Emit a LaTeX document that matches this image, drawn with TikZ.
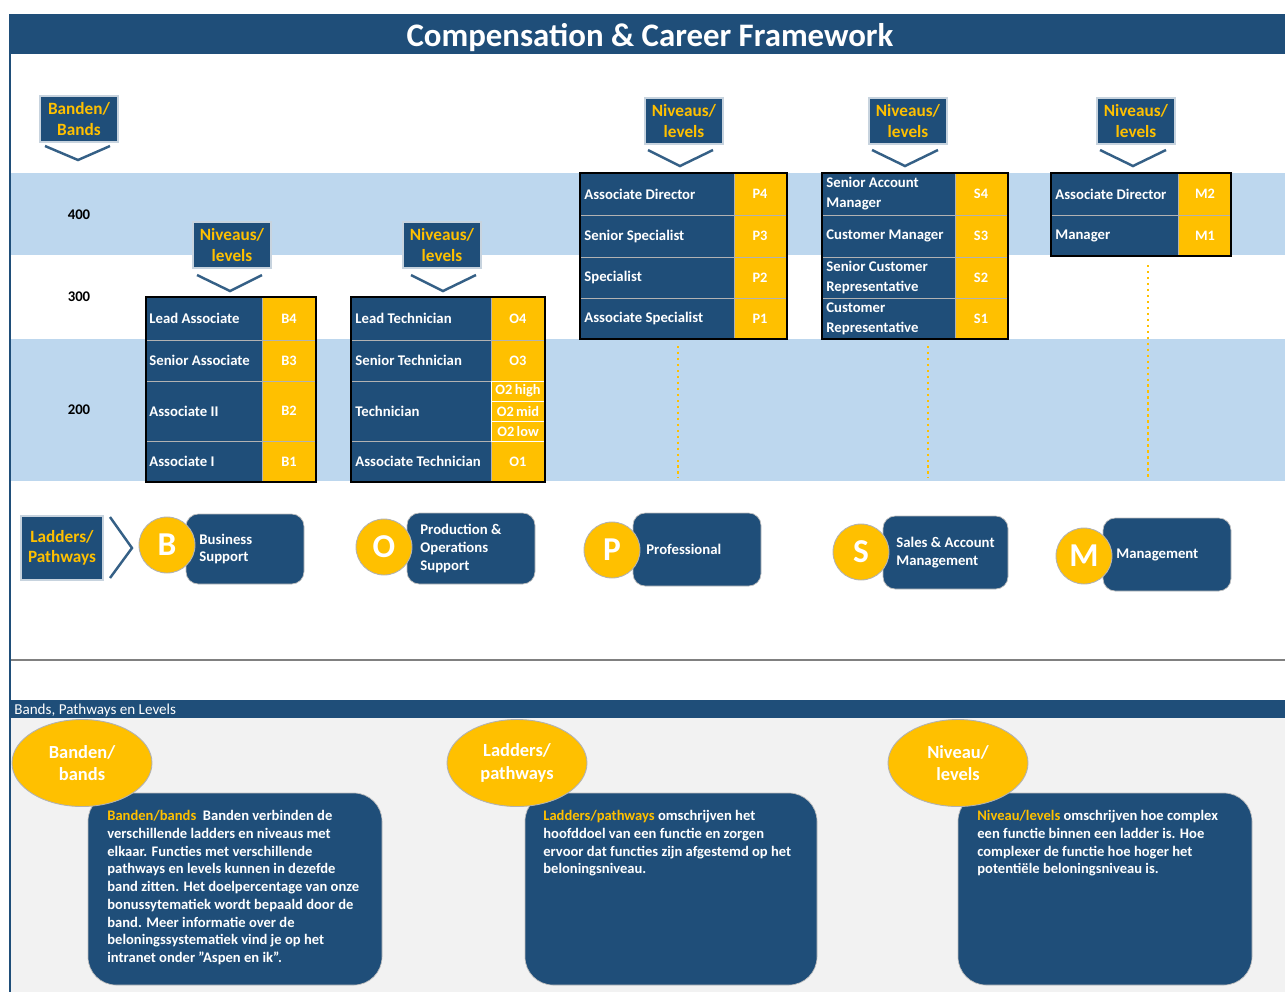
\documentclass[tikz,border=0pt]{standalone}
\usepackage{fontspec}
\setmainfont{Carlito}
\usetikzlibrary{shapes.geometric}

\definecolor{navy}{HTML}{1F4E79}
\definecolor{gold}{HTML}{FFC000}
\definecolor{bandblue}{HTML}{BDD7EE}
\definecolor{paper}{HTML}{F2F2F2}

\tikzset{
  cell/.style={fill=navy, draw=gray!60, line width=0.5pt},
  lvlcell/.style={fill=gold, draw=gray!60, line width=0.5pt},
  rowtext/.style={text=white, font=\bfseries\fontsize{8.4}{11.4}\selectfont, align=left, anchor=west, inner sep=0pt},
  lvltext/.style={text=white, font=\bfseries\fontsize{8.2}{9}\selectfont, inner sep=0pt},
  tag/.style={fill=navy, text=gold, font=\bfseries\fontsize{9.8}{11.5}\selectfont, align=center,
    minimum width=1.52cm, minimum height=0.88cm, inner sep=1pt,
    preaction={draw=navy!25, line width=2.6pt}},
  chev/.style={draw=navy!90, line width=1.4pt},
  dotline/.style={draw=gold, line width=1.4pt, dotted},
  bandno/.style={font=\bfseries\fontsize{8.4}{9}\selectfont},
  pathbox/.style={fill=navy, draw=gray!50, line width=0.4pt, rounded corners=7pt},
  pathdot/.style={circle, fill=gold, draw=gray!60, line width=0.5pt, minimum size=1.12cm, inner sep=0pt,
    text=white, font=\bfseries\fontsize{19}{19}\selectfont},
  pathtext/.style={text=white, font=\bfseries\fontsize{8.4}{10}\selectfont, align=left, anchor=west, inner sep=0pt},
  infobox/.style={fill=navy, draw=gray!50, line width=0.4pt, rounded corners=16pt},
  infoblob/.style={ellipse, fill=gold, draw=gray!60, line width=0.5pt, minimum width=2.8cm, minimum height=1.74cm,
    inner sep=0pt, text=white, align=center, font=\bfseries\fontsize{10.5}{13}\selectfont},
  infotext/.style={text=white, font=\bfseries\fontsize{8.3}{10.1}\selectfont, align=left, anchor=north west, inner sep=0pt}
}

\begin{document}
\begin{tikzpicture}[x=0.02cm, y=-0.02cm]
  \useasboundingbox (0,0) rectangle (1285,992);

  % === Background ===
  \fill[bandblue] (11,173) rectangle (1285,255);
  \fill[bandblue] (11,339) rectangle (1285,481);
  \fill[paper] (11,718) rectangle (1285,992);
  \draw[gray, line width=1.2pt] (10,660) -- (1285,660);
  \draw[navy, line width=1.2pt] (10,14) -- (10,992);

  % === Header ===
  \fill[navy] (10,14) rectangle (1285,54);
  \node[text=white, font=\bfseries\fontsize{18.7}{20}\selectfont] (title) at (650,38) {Compensation \& Career Framework};

  % === Bands ===
  \node[tag] (bandtag) at (79,119) {Banden/\\Bands};
  \draw[chev] (45,146) -- (78,160) -- (110,146);
  \node[bandno] (b400) at (79,215) {400};
  \node[bandno] (b300) at (79,297) {300};
  \node[bandno] (b200) at (79,410) {200};

  % === Level tags ===
  \node[tag] (tagB) at (232,245) {Niveaus/\\levels};
  \draw[chev] (197,275) -- (230,291) -- (262,275);
  \node[tag] (tagO) at (442,245) {Niveaus/\\levels};
  \draw[chev] (411,275) -- (443,291) -- (476,275);
  \node[tag] (tagP) at (684,121) {Niveaus/\\levels};
  \draw[chev] (648,150) -- (680,166) -- (713,150);
  \node[tag] (tagS) at (908,121) {Niveaus/\\levels};
  \draw[chev] (872,150) -- (905,166) -- (938,150);
  \node[tag] (tagM) at (1136,121) {Niveaus/\\levels};
  \draw[chev] (1100,150) -- (1133,166) -- (1166,150);

  % === Business Support ===
  \foreach \ya/\yb/\job/\lvl in {297/340/Lead Associate/B4, 340/381/Senior Associate/B3,
                                 381/441/Associate II/B2, 441/482/Associate I/B1} {
    \draw[cell] (146,\ya) rectangle (262,\yb);
    \draw[lvlcell] (262,\ya) rectangle (316,\yb);
    \node[rowtext] (\lvl job) at (149,{(\ya+\yb)/2}) {\job};
    \node[lvltext] (\lvl) at (289,{(\ya+\yb)/2}) {\lvl};
  }
  \draw[line width=1.2pt] (146,297) rectangle (316,482);

  % === Production & Operations ===
  \foreach \ya/\yb/\job/\lvl in {297/340/Lead Technician/O4, 340/381/Senior Technician/O3,
                                 441/482/Associate Technician/O1} {
    \draw[cell] (351,\ya) rectangle (491,\yb);
    \draw[lvlcell] (491,\ya) rectangle (545,\yb);
    \node[rowtext] (\lvl job) at (355,{(\ya+\yb)/2}) {\job};
    \node[lvltext] (\lvl) at (518,{(\ya+\yb)/2}) {\lvl};
  }
  \draw[cell] (351,381) rectangle (491,441);
  \node[rowtext] (O2job) at (355,411) {Technician};
  \foreach \ya/\yb/\sub in {381/401/high, 401/421/mid, 421/441/low} {
    \draw[lvlcell, draw=white] (491,\ya) rectangle (545,\yb);
    \node[lvltext] (O2\sub) at (518,{(\ya+\yb)/2}) {O2\,\sub};
  }
  \draw[line width=1.2pt] (351,297) rectangle (545,482);

  % === Professional ===
  \foreach \ya/\yb/\job/\lvl in {173/215/Associate Director/P4, 215/257/Senior Specialist/P3,
                                 257/298/Specialist/P2, 298/339/Associate Specialist/P1} {
    \draw[cell] (580,\ya) rectangle (734,\yb);
    \draw[lvlcell] (734,\ya) rectangle (787,\yb);
    \node[rowtext] (\lvl job) at (584,{(\ya+\yb)/2}) {\job};
    \node[lvltext] (\lvl) at (760,{(\ya+\yb)/2}) {\lvl};
  }
  \draw[line width=1.2pt] (580,173) rectangle (787,339);

  % === Sales & Account ===
  \foreach \ya/\yb/\job/\lvl in {173/215/{Senior Account\\Manager}/S4, 215/257/Customer Manager/S3,
                                 257/298/{Senior Customer\\Representative}/S2, 298/339/{Customer\\Representative}/S1} {
    \draw[cell] (822,\ya) rectangle (955,\yb);
    \draw[lvlcell] (955,\ya) rectangle (1008,\yb);
    \node[rowtext] (\lvl job) at (826,{(\ya+\yb)/2}) {\job};
    \node[lvltext] (\lvl) at (981,{(\ya+\yb)/2}) {\lvl};
  }
  \draw[line width=1.2pt] (822,173) rectangle (1008,339);

  % === Management ===
  \foreach \ya/\yb/\job/\lvl in {173/215/Associate Director/M2, 215/256/Manager/M1} {
    \draw[cell] (1051,\ya) rectangle (1178,\yb);
    \draw[lvlcell] (1178,\ya) rectangle (1231,\yb);
    \node[rowtext] (\lvl job) at (1055,{(\ya+\yb)/2}) {\job};
    \node[lvltext] (\lvl) at (1205,{(\ya+\yb)/2}) {\lvl};
  }
  \draw[line width=1.2pt] (1051,173) rectangle (1231,256);

  % dotted guides down to band 100
  \coordinate (Ptop) at (678,346);  \coordinate (Pend) at (678,478);
  \coordinate (Stop) at (928,346);  \coordinate (Send) at (928,478);
  \coordinate (Mtop) at (1148,265); \coordinate (Mend) at (1148,478);
  \draw[dotline] (Ptop) -- (Pend);
  \draw[dotline] (Stop) -- (Send);
  \draw[dotline] (Mtop) -- (Mend);

  % === Ladders / Pathways ===
  \node[tag, minimum width=1.6cm, minimum height=1.24cm] (laddertag) at (62,548) {Ladders/\\Pathways};
  \draw[chev] (110,517) -- (132,548) -- (110,578);
  \foreach \c/\cx/\cy/\bx/\by/\ex/\ey/\txt in {
      B/167/545/186/514/304/584/{Business\\Support},
      O/384/547/407/513/535/584/{Production \&\\Operations\\Support},
      P/612/550/633/513/761/586/{Professional},
      S/861/552/883/516/1008/589/{Sales \& Account\\Management},
      M/1084/556/1103/518/1231/591/{Management}} {
    \draw[pathbox] (\bx,\by) rectangle (\ex,\ey);
    \node[pathdot] (\c) at (\cx,\cy) {\c};
    \node[pathtext] (\c txt) at (\bx+13,{(\by+\ey)/2}) {\txt};
  }

  % === Bands, Pathways en Levels ===
  \fill[navy] (10,700) rectangle (1285,718);
  \node[text=white, font=\fontsize{8.6}{9}\selectfont, anchor=west, inner sep=0pt] (bplhead) at (14,710) {Bands, Pathways en Levels};

  \draw[infobox] (88,793) rectangle (382,985);
  \node[infoblob] (bandblob) at (82,763) {Banden/\\bands};
  \node[infotext] (bandinfo) at (107,810) {{\color{gold}Banden/bands}\ \ Banden verbinden de\\
    verschillende ladders en niveaus met\\elkaar. Functies met verschillende\\
    pathways en levels kunnen in dezefde\\band zitten. Het doelpercentage van onze\\
    bonussytematiek wordt bepaald door de\\band. Meer informatie over de\\
    beloningssystematiek vind je op het\\intranet onder "Aspen en ik".};

  \draw[infobox] (525,793) rectangle (817,985);
  \node[infoblob] (ladderblob) at (517,763) {Ladders/\\pathways};
  \node[infotext] (ladderinfo) at (543,810) {{\color{gold}Ladders/pathways} omschrijven het\\
    hoofddoel van een functie en zorgen\\ervoor dat functies zijn afgestemd op het\\
    beloningsniveau.};

  \draw[infobox] (958,793) rectangle (1252,985);
  \node[infoblob] (levelblob) at (958,763) {Niveau/\\levels};
  \node[infotext] (levelinfo) at (977,810) {{\color{gold}Niveau/levels} omschrijven hoe complex\\
    een functie binnen een ladder is. Hoe\\complexer de functie hoe hoger het\\
    potentiële beloningsniveau is.};
\end{tikzpicture}
\end{document}
